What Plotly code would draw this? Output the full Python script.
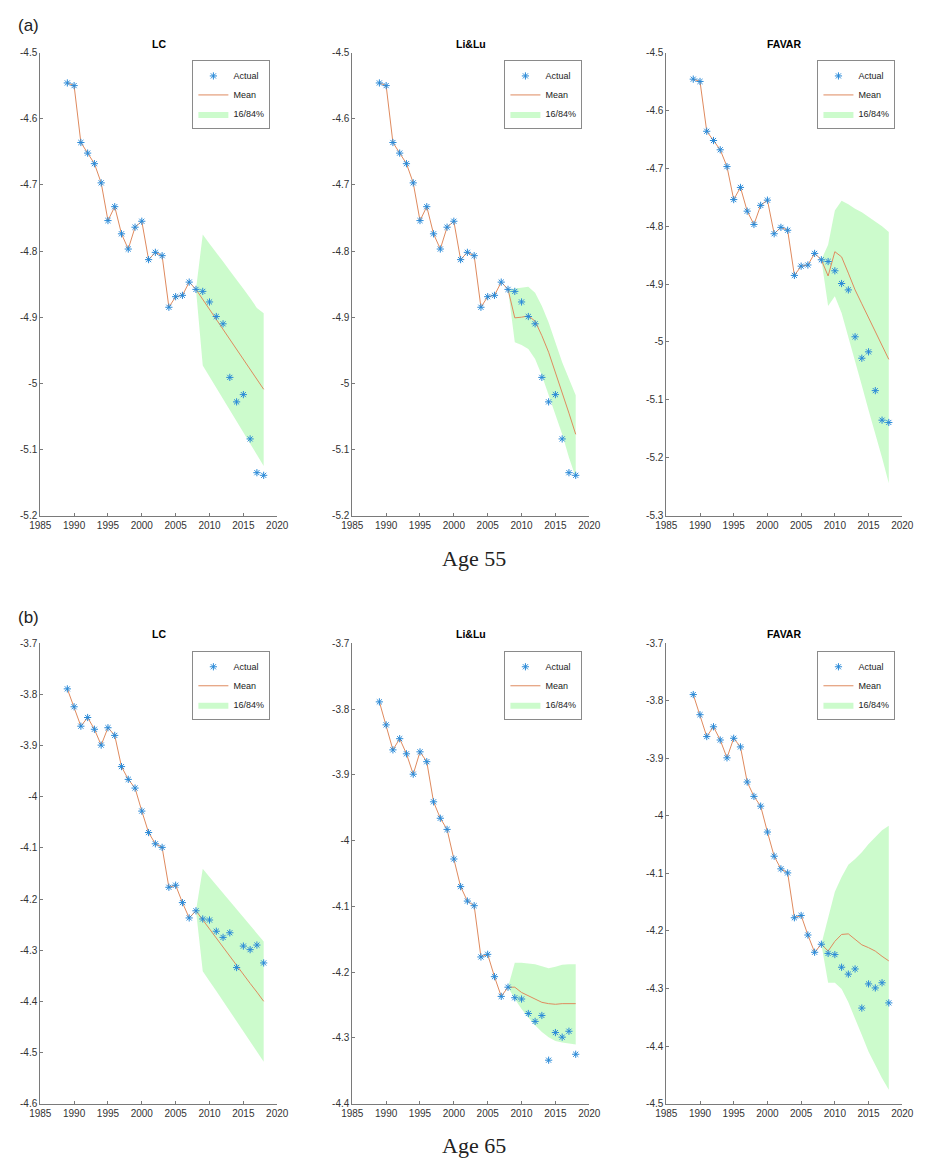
import plotly.graph_objects as go

# ---------------- data ----------------
years = list(range(1989, 2019))
years_f = list(range(2009, 2019))

actual_55 = [-4.546, -4.550, -4.636, -4.652, -4.668, -4.697, -4.754, -4.733, -4.774, -4.797,
             -4.764, -4.755, -4.813, -4.802, -4.807, -4.885, -4.869, -4.867, -4.847, -4.858,
             -4.861, -4.877, -4.899, -4.910, -4.991, -5.028, -5.017, -5.084, -5.135, -5.139]
actual_65 = [-3.789, -3.824, -3.862, -3.845, -3.868, -3.899, -3.865, -3.880, -3.941, -3.966,
             -3.983, -4.028, -4.070, -4.092, -4.099, -4.177, -4.173, -4.207, -4.237, -4.223,
             -4.239, -4.241, -4.263, -4.275, -4.266, -4.334, -4.292, -4.299, -4.290, -4.325]

lc55_mean = [-4.873, -4.888, -4.903, -4.918, -4.933, -4.948, -4.963, -4.979, -4.994, -5.009]
lc55_up = [-4.775, -4.789, -4.802, -4.816, -4.830, -4.843, -4.857, -4.871, -4.886, -4.894]
lc55_lo = [-4.973, -4.990, -5.007, -5.024, -5.041, -5.058, -5.074, -5.091, -5.108, -5.125]

li55_mean = [-4.901, -4.900, -4.898, -4.906, -4.928, -4.953, -4.983, -5.013, -5.045, -5.077]
li55_up = [-4.857, -4.855, -4.854, -4.863, -4.883, -4.908, -4.938, -4.968, -4.993, -5.018]
li55_lo = [-4.938, -4.942, -4.948, -4.963, -4.988, -5.018, -5.048, -5.077, -5.112, -5.142]

fv55_mean = [-4.886, -4.844, -4.853, -4.881, -4.910, -4.934, -4.958, -4.982, -5.006, -5.030]
fv55_up = [-4.832, -4.773, -4.756, -4.762, -4.770, -4.776, -4.784, -4.793, -4.800, -4.810]
fv55_lo = [-4.938, -4.921, -4.950, -4.989, -5.032, -5.075, -5.118, -5.160, -5.200, -5.244]

lc65_mean = [-4.241, -4.258, -4.276, -4.294, -4.312, -4.329, -4.347, -4.365, -4.382, -4.400]
lc65_up = [-4.141, -4.157, -4.173, -4.188, -4.204, -4.220, -4.236, -4.252, -4.267, -4.283]
lc65_lo = [-4.341, -4.361, -4.380, -4.400, -4.420, -4.439, -4.459, -4.479, -4.498, -4.518]

li65_mean = [-4.223, -4.231, -4.236, -4.241, -4.246, -4.248, -4.249, -4.248, -4.248, -4.248]
li65_up = [-4.186, -4.186, -4.187, -4.188, -4.191, -4.194, -4.192, -4.189, -4.188, -4.188]
li65_lo = [-4.241, -4.256, -4.269, -4.281, -4.291, -4.299, -4.305, -4.307, -4.309, -4.310]

fv65_mean = [-4.235, -4.218, -4.206, -4.205, -4.215, -4.224, -4.229, -4.235, -4.244, -4.252]
fv65_up = [-4.178, -4.132, -4.106, -4.085, -4.075, -4.063, -4.049, -4.037, -4.025, -4.017]
fv65_lo = [-4.290, -4.290, -4.301, -4.324, -4.353, -4.381, -4.410, -4.433, -4.456, -4.476]

x_ticks = [1985, 1990, 1995, 2000, 2005, 2010, 2015, 2020]
y_ticks_55a = [-4.5, -4.6, -4.7, -4.8, -4.9, -5.0, -5.1, -5.2]
y_ticks_55b = [-4.5, -4.6, -4.7, -4.8, -4.9, -5.0, -5.1, -5.2, -5.3]
y_ticks_65a = [-3.7, -3.8, -3.9, -4.0, -4.1, -4.2, -4.3, -4.4, -4.5, -4.6]
y_ticks_65b = [-3.7, -3.8, -3.9, -4.0, -4.1, -4.2, -4.3, -4.4]
y_ticks_65c = [-3.7, -3.8, -3.9, -4.0, -4.1, -4.2, -4.3, -4.4, -4.5]

titles = ["LC", "Li&Lu", "FAVAR"]

# ---------------- figure ----------------
W, H = 925, 1164
BLUE = "#2a8ad8"
ORANGE = "#df8a5e"
GREEN = "rgba(0,235,0,0.2)"
AXC = "#7a7a7a"
TXT = "#333333"
NARROW = "Liberation Sans Narrow, Arial Narrow, Liberation Sans, Arial, sans-serif"


def fmt(v):
    s = ("%.1f" % v)
    if s.endswith(".0"):
        s = s[:-2]
    return s


panels = [
    # (actual, mean, up, lo, ytick list, px left, px right, px top, px bottom)
    (actual_55, lc55_mean, lc55_up, lc55_lo, y_ticks_55a, 30, 273, 47, 515),
    (actual_55, li55_mean, li55_up, li55_lo, y_ticks_55a, 350, 593, 47, 515),
    (actual_55, fv55_mean, fv55_up, fv55_lo, y_ticks_55b, 672, 914, 47, 515),
    (actual_65, lc65_mean, lc65_up, lc65_lo, y_ticks_65a, 30, 273, 644, 1109),
    (actual_65, li65_mean, li65_up, li65_lo, y_ticks_65b, 350, 593, 644, 1109),
    (actual_65, fv65_mean, fv65_up, fv65_lo, y_ticks_65c, 672, 914, 644, 1109),
]

fig = go.Figure()
layout = dict(
    width=W, height=H, margin=dict(l=0, r=0, t=0, b=0),
    paper_bgcolor="white", plot_bgcolor="white", showlegend=True,
    font=dict(family=NARROW, color=TXT),
)
annotations = []

n_hist = years.index(2008) + 1

for i, (act, mean, up, lo, yt, l, r, t, b) in enumerate(panels):
    k = i + 1
    xa = "x" if k == 1 else "x%d" % k
    ya = "y" if k == 1 else "y%d" % k
    lg = "legend" if k == 1 else "legend%d" % k
    a2008 = act[n_hist - 1]

    # band
    fig.add_trace(go.Scatter(
        x=[2008] + years_f + years_f[::-1], y=[a2008] + up + lo[::-1],
        fill="toself", fillcolor=GREEN, line=dict(width=0), mode="lines",
        name="16/84%", xaxis=xa, yaxis=ya, legend=lg, legendrank=3, hoverinfo="skip"))
    # mean line (history + forecast)
    fig.add_trace(go.Scatter(
        x=years[:n_hist] + years_f, y=act[:n_hist] + mean,
        mode="lines", line=dict(color=ORANGE, width=1),
        name="Mean", xaxis=xa, yaxis=ya, legend=lg, legendrank=2))
    # actual
    fig.add_trace(go.Scatter(
        x=years, y=act, mode="markers",
        marker=dict(symbol="asterisk-open", size=6, color=BLUE, line=dict(color=BLUE, width=1)),
        name="Actual", xaxis=xa, yaxis=ya, legend=lg, legendrank=1))

    xkey = "xaxis" if k == 1 else "xaxis%d" % k
    ykey = "yaxis" if k == 1 else "yaxis%d" % k
    layout[xkey] = dict(
        domain=[l / W, r / W], anchor=ya, range=[1985, 2020],
        tickvals=x_ticks, ticktext=[str(v) for v in x_ticks],
        showline=True, linecolor=AXC, linewidth=1, ticks="inside", ticklen=3,
        tickcolor=AXC, showgrid=False, zeroline=False, mirror=False,
        tickfont=dict(size=10, color=TXT, family=NARROW))
    layout[ykey] = dict(
        domain=[1 - b / H, 1 - t / H], anchor=xa, range=[yt[-1], yt[0]],
        tickvals=yt, ticktext=[fmt(v) for v in yt],
        showline=True, linecolor=AXC, linewidth=1, ticks="inside", ticklen=3,
        tickcolor=AXC, showgrid=False, zeroline=False, mirror=False,
        tickfont=dict(size=10, color=TXT, family=NARROW))
    layout[lg] = dict(
        x=(r - 7) / W, y=1 - (t + 8) / H, xanchor="right", yanchor="top",
        bgcolor="white", bordercolor="#8a8a8a", borderwidth=1,
        font=dict(size=9, color="#222222", family=NARROW),
        itemwidth=30, traceorder="normal", tracegroupgap=0)

    annotations.append(dict(
        text="<b>%s</b>" % titles[i % 3], x=(l + r) / 2 / W, y=1 - (t - 9) / H,
        xref="paper", yref="paper", showarrow=False, xanchor="center", yanchor="middle",
        font=dict(size=10.5, color="black", family="Liberation Sans, Arial, sans-serif")))

annotations += [
    dict(text="(a)", x=5 / W, y=1 - 20 / H, xref="paper", yref="paper", showarrow=False,
         xanchor="left", yanchor="middle",
         font=dict(size=17, color="#222", family="Liberation Sans, Arial, sans-serif")),
    dict(text="(b)", x=5 / W, y=1 - 618 / H, xref="paper", yref="paper", showarrow=False,
         xanchor="left", yanchor="middle",
         font=dict(size=17, color="#222", family="Liberation Sans, Arial, sans-serif")),
    dict(text="Age 55", x=475 / W, y=1 - 558 / H, xref="paper", yref="paper", showarrow=False,
         xanchor="center", yanchor="middle",
         font=dict(size=22, color="#222", family="Liberation Serif, DejaVu Serif, serif")),
    dict(text="Age 65", x=475 / W, y=1 - 1151 / H, xref="paper", yref="paper", showarrow=False,
         xanchor="center", yanchor="middle",
         font=dict(size=22, color="#222", family="Liberation Serif, DejaVu Serif, serif")),
]
layout["annotations"] = annotations
fig.update_layout(**layout)

fig.write_html("out.html")
